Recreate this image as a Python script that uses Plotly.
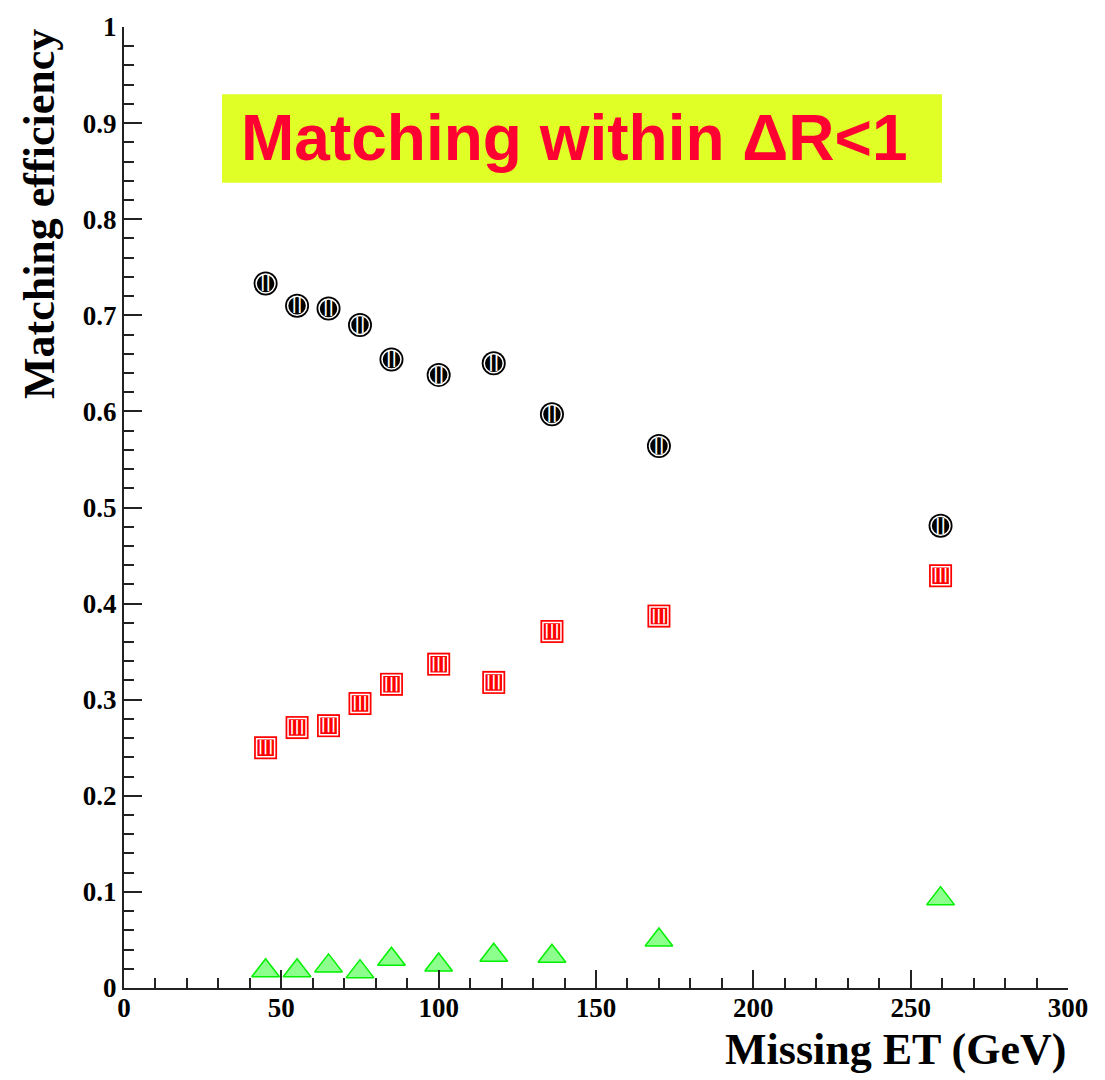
import plotly.graph_objects as go

# ---- data ----
met = [45, 55, 65, 75, 85, 100, 117.5, 136, 170, 259.5]
eff_black = [0.733, 0.710, 0.707, 0.690, 0.654, 0.638, 0.650, 0.597, 0.564, 0.481]
eff_red = [0.250, 0.271, 0.273, 0.296, 0.316, 0.337, 0.318, 0.371, 0.387, 0.429]
eff_green = [0.018, 0.018, 0.023, 0.017, 0.030, 0.024, 0.034, 0.033, 0.050, 0.093]

x_ticks = [0, 50, 100, 150, 200, 250, 300]
y_ticks = [0, 0.1, 0.2, 0.3, 0.4, 0.5, 0.6, 0.7, 0.8, 0.9, 1]
y_ticklabels = ["0", "0.1", "0.2", "0.3", "0.4", "0.5", "0.6", "0.7", "0.8", "0.9", "1"]

title_text = "Matching within ΔR<1"
x_title = "Missing ET (GeV)"
y_title = "Matching efficiency"

fig = go.Figure()

# black circles (striped)
fig.add_trace(go.Scatter(x=met, y=eff_black, mode="markers",
                         marker=dict(symbol="circle", size=24, color="black", line=dict(width=0)),
                         showlegend=False, hoverinfo="skip"))
fig.add_trace(go.Scatter(x=met, y=eff_black, mode="markers",
                         marker=dict(symbol="circle", size=19, color="black",
                                     line=dict(width=1.5, color="white")),
                         showlegend=False, hoverinfo="skip"))
fig.add_trace(go.Scatter(x=met, y=eff_black, mode="text", text=["||"] * len(met),
                         textposition="middle center",
                         textfont=dict(family="DejaVu Sans", size=15, color="white", weight="bold"),
                         showlegend=False, hoverinfo="skip"))

# red squares (striped)
fig.add_trace(go.Scatter(x=met, y=eff_red, mode="markers",
                         marker=dict(symbol="square", size=23, color="#ff0000", line=dict(width=0)),
                         showlegend=False, hoverinfo="skip"))
fig.add_trace(go.Scatter(x=met, y=eff_red, mode="markers",
                         marker=dict(symbol="square", size=18, color="#ff0000",
                                     line=dict(width=1.5, color="white")),
                         showlegend=False, hoverinfo="skip"))
fig.add_trace(go.Scatter(x=met, y=eff_red, mode="text", text=["|||"] * len(met),
                         textposition="middle center",
                         textfont=dict(family="DejaVu Sans", size=14, color="white", weight="bold"),
                         showlegend=False, hoverinfo="skip"))

# green triangles (hatched)
fig.add_trace(go.Scatter(x=met, y=eff_green, mode="markers",
                         marker=dict(symbol="triangle-up", size=24, color="#8cff8c",
                                     line=dict(width=1.5, color="#00f000")),
                         showlegend=False, hoverinfo="skip"))

tickfont = dict(family="Liberation Serif", size=27, color="black", weight="bold")

fig.update_layout(
    width=1105, height=1080,
    margin=dict(l=124, r=37, t=18, b=92),
    paper_bgcolor="white", plot_bgcolor="white",
    xaxis=dict(range=[0, 300], tickvals=x_ticks, ticktext=[str(v) for v in x_ticks],
               ticks="inside", ticklen=18, tickwidth=2, tickcolor="#222",
               showline=True, linecolor="#222", linewidth=2, showgrid=False, zeroline=False,
               minor=dict(dtick=10, ticks="inside", ticklen=10, tickwidth=2, tickcolor="#222", showgrid=False),
               tickfont=tickfont, ticklabelstandoff=-5),
    yaxis=dict(range=[0, 1], tickvals=y_ticks, ticktext=y_ticklabels,
               ticks="inside", ticklen=18, tickwidth=2, tickcolor="#222",
               showline=True, linecolor="#222", linewidth=2, showgrid=False, zeroline=False,
               minor=dict(dtick=0.02, ticks="inside", ticklen=10, tickwidth=2, tickcolor="#222", showgrid=False),
               tickfont=tickfont),
    font=dict(family="Liberation Serif"),
)

# title box
fig.add_shape(type="rect", xref="paper", yref="paper",
              x0=0.1038, x1=0.8665, y0=0.838, y1=0.930,
              fillcolor="#dfff26", line=dict(width=0), layer="below")
fig.add_annotation(xref="paper", yref="paper", x=0.4767, y=0.884, text="<b>" + title_text + "</b>",
                   showarrow=False, xanchor="center", yanchor="middle",
                   font=dict(family="Liberation Sans", size=64, color="#ff0033"))

# axis titles
fig.add_annotation(xref="paper", yref="paper", x=1.0, y=-0.064, text="<b>" + x_title + "</b>",
                   showarrow=False, xanchor="right", yanchor="middle",
                   font=dict(family="Liberation Serif", size=44, color="black"))
fig.add_annotation(xref="paper", yref="paper", x=-0.09, y=1.0, text="<b>" + y_title + "</b>",
                   showarrow=False, xanchor="center", yanchor="top", textangle=-90,
                   font=dict(family="Liberation Serif", size=44, color="black"))

fig.write_html("out.html")
